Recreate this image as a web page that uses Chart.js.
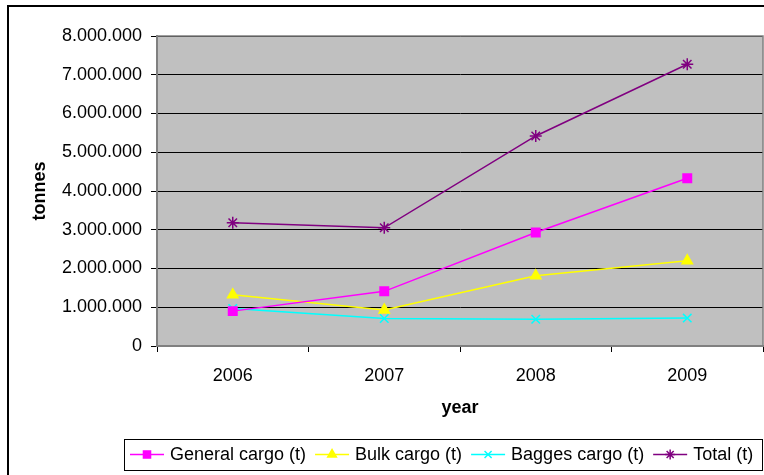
<!DOCTYPE html>
<html>
<head>
<meta charset="utf-8">
<script src="https://cdn.jsdelivr.net/npm/chart.js@4.4.0/dist/chart.umd.min.js"></script>
<style>
  html, body { margin: 0; padding: 0; background: #fff; overflow: hidden; }
  #cargoChart { display: block; }
</style>
</head>
<body>
<canvas id="cargoChart" width="764" height="475"></canvas>
<script>
// data (tonnes)
var years = ["2006", "2007", "2008", "2009"];
var generalCargo = [900000, 1410000, 2930000, 4330000];
var bulkCargo = [1320000, 930000, 1810000, 2200000];
var baggesCargo = [970000, 710000, 690000, 720000];
var totalCargo = [3180000, 3050000, 5420000, 7270000];
var yTicks = [0, 1000000, 2000000, 3000000, 4000000, 5000000, 6000000, 7000000, 8000000];

var fontFamily = '"Liberation Sans", Arial, sans-serif';

function dotted(v) {
  return String(v).replace(/\B(?=(\d{3})+(?!\d))/g, ".");
}

function series(label, data, color, style, radius) {
  return {
    label: label,
    data: data,
    borderColor: color,
    backgroundColor: color,
    borderWidth: 1.5,
    pointStyle: style,
    pointRadius: radius,
    pointBorderWidth: 1.5,
    pointBackgroundColor: color,
    pointBorderColor: color,
    tension: 0
  };
}

// grey plot background, plot frame, outer frame
var frames = {
  id: 'frames',
  beforeDraw: function (chart) {
    var a = chart.chartArea, ctx = chart.ctx;
    ctx.save();
    ctx.fillStyle = '#fff';
    ctx.fillRect(0, 0, chart.width, chart.height);
    ctx.fillStyle = '#C0C0C0';
    ctx.fillRect(a.left, a.top, a.right - a.left, a.bottom - a.top);
    ctx.restore();
  },
  beforeDatasetsDraw: function (chart) {
    var a = chart.chartArea, ctx = chart.ctx;
    ctx.save();
    ctx.strokeStyle = '#808080';
    ctx.lineWidth = 1.5;
    ctx.strokeRect(a.left, a.top, a.right - a.left, a.bottom - a.top);
    ctx.restore();
  },
  afterDraw: function (chart) {
    var ctx = chart.ctx;
    ctx.save();
    ctx.strokeStyle = '#000';
    ctx.lineWidth = 2;
    ctx.strokeRect(8, 6, chart.width + 20, chart.height + 20);
    ctx.restore();
  }
};

// excel-like legend: line + marker + label, in a box
var legendBox = {
  id: 'legendBox',
  afterDraw: function (chart) {
    var ctx = chart.ctx;
    var sets = chart.data.datasets;
    var boxL = 124, boxT = 439, boxR = 762, boxB = 470;
    var midY = (boxT + boxB) / 2;
    ctx.save();
    ctx.strokeStyle = '#000';
    ctx.lineWidth = 1;
    ctx.strokeRect(boxL + 0.5, boxT + 0.5, boxR - boxL, boxB - boxT);
    ctx.font = '18px ' + fontFamily;
    ctx.textBaseline = 'middle';
    ctx.textAlign = 'left';
    var x = 130;
    sets.forEach(function (ds) {
      ctx.strokeStyle = ds.borderColor;
      ctx.lineWidth = 1.5;
      ctx.beginPath();
      ctx.moveTo(x, midY);
      ctx.lineTo(x + 34, midY);
      ctx.stroke();
      if (Chart.helpers && Chart.helpers.drawPoint) {
        ctx.fillStyle = ds.backgroundColor;
        Chart.helpers.drawPoint(ctx, {
          pointStyle: ds.pointStyle,
          radius: ds.pointRadius - 1,
          borderWidth: 1.5,
          rotation: 0
        }, x + 17, midY);
      }
      ctx.fillStyle = '#000';
      var w = ctx.measureText(ds.label).width;
      ctx.fillText(ds.label, x + 40, midY + 1);
      x += 40 + w + 9;
    });
    ctx.restore();
  }
};

var cargoChart = new Chart(document.getElementById('cargoChart'), {
  type: 'line',
  data: {
    labels: years,
    datasets: [
      series('General cargo (t)', generalCargo, '#FF00FF', 'rect', 6),
      series('Bulk cargo (t)', bulkCargo, '#FFFF00', 'triangle', 6),
      series('Bagges cargo (t)', baggesCargo, '#00FFFF', 'crossRot', 6),
      series('Total (t)', totalCargo, '#800080', 'star', 6)
    ]
  },
  options: {
    responsive: false,
    animation: false,
    layout: { autoPadding: false, padding: { left: 29, top: 36, right: 1, bottom: 56 } },
    plugins: {
      legend: { display: false },
      tooltip: { enabled: false }
    },
    scales: {
      x: {
        offset: true,
        grid: { offset: true, drawOnChartArea: false, tickLength: 6, color: '#000', lineWidth: 1 },
        border: { color: '#808080', width: 2 },
        ticks: { color: '#000', padding: 13, font: { family: fontFamily, size: 18 } },
        title: { display: true, text: 'year', color: '#000', padding: 0,
                 font: { family: fontFamily, size: 18, weight: 'bold' } },
        afterFit: function (scale) {
          scale.height = 73;
          scale.paddingLeft = 0;
          scale.paddingRight = 0;
        }
      },
      y: {
        min: 0,
        max: 8000000,
        afterBuildTicks: function (scale) {
          scale.ticks = yTicks.map(function (v) { return { value: v }; });
        },
        grid: { color: '#000', lineWidth: 1, tickLength: 6 },
        border: { color: '#808080', width: 2 },
        ticks: {
          color: '#000', padding: 9,
          font: { family: fontFamily, size: 18 },
          callback: function (v) { return dotted(v); }
        },
        title: { display: true, text: 'tonnes', color: '#000', padding: 0,
                 font: { family: fontFamily, size: 18, weight: 'bold' } },
        afterFit: function (scale) {
          scale.width = 128;
          scale.paddingTop = 0;
          scale.paddingBottom = 0;
        }
      }
    }
  },
  plugins: [frames, legendBox]
});
</script>
</body>
</html>
